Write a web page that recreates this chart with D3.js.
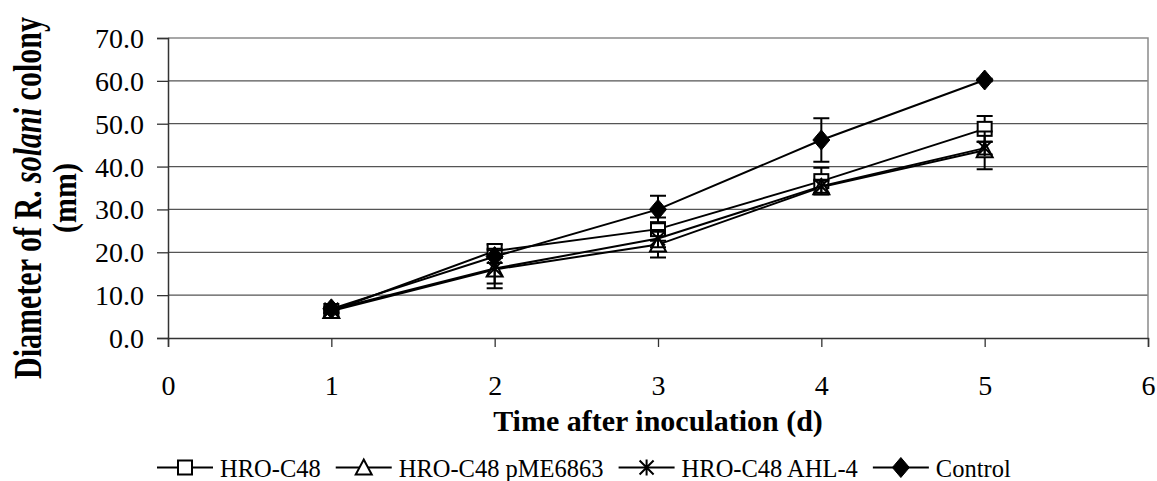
<!DOCTYPE html>
<html>
<head>
<meta charset="utf-8">
<script src="https://cdn.jsdelivr.net/npm/d3@7"></script>
<style>
  html, body { margin: 0; padding: 0; background: #fff; }
  svg { display: block; font-family: "Liberation Serif", "Times New Roman", serif; }
</style>
</head>
<body>
<svg id="chart" width="1157" height="481"></svg>
<script>
// ---- data ----
const days = [1, 2, 3, 4, 5];
const seriesNames = ["HRO-C48", "HRO-C48 pME6863", "HRO-C48 AHL-4", "Control"];
const hroC48 = [6.3, 20.3, 25.4, 36.6, 48.8];
const hroC48Err = [0.5, 1.5, 2.7, 3.1, 3.0];
const pME6863 = [6.3, 16.0, 21.8, 35.2, 43.8];
const pME6863Err = [0.5, 3.3, 3.0, 1.5, 4.4];
const ahl4 = [6.6, 16.2, 23.2, 35.4, 44.3];
const ahl4Err = [0.5, 4.6, 2.0, 1.5, 1.5];
const control = [6.8, 19.0, 30.0, 46.2, 60.2];
const controlErr = [0.3, 1.5, 3.2, 5.1, 0.3];
const markers = ["square", "triangle", "star", "diamond"];
const xTicks = [0, 1, 2, 3, 4, 5, 6];
const yTicks = [0, 10, 20, 30, 40, 50, 60, 70];
const xTitle = "Time after inoculation (d)";

const seriesValues = [hroC48, pME6863, ahl4, control];
const seriesErrs = [hroC48Err, pME6863Err, ahl4Err, controlErr];

// ---- layout ----
const svg = d3.select("#chart");
const L = 168, R = 1148, T = 38, B = 338;
const x = d3.scaleLinear().domain([0, 6]).range([L, R]);
const y = d3.scaleLinear().domain([0, 70]).range([B, T]);

// gridlines
svg.append("g").selectAll("line").data(yTicks.filter(v => v > 0 && v < 70)).join("line")
  .attr("x1", L).attr("x2", R).attr("y1", d => y(d)).attr("y2", d => y(d))
  .attr("stroke", "#555").attr("stroke-width", 1.2);

// plot border (top / right)
svg.append("path").attr("d", `M${L},${T}H${R}V${B}`).attr("fill", "none")
  .attr("stroke", "#8a8a8a").attr("stroke-width", 1.5);

// y axis
const yAxis = svg.append("g").attr("transform", `translate(${L},0)`)
  .call(d3.axisLeft(y).tickValues(yTicks).tickSize(11).tickPadding(13).tickFormat(d3.format(".1f")));
yAxis.select(".domain").attr("stroke", "#333").attr("stroke-width", 1.5);
yAxis.selectAll(".tick line").attr("stroke", "#333").attr("stroke-width", 1.3);
yAxis.selectAll("text").attr("font-size", 28).attr("fill", "#000")
  .attr("font-family", "Liberation Serif").attr("dy", "0.34em");

// x axis
const xAxis = svg.append("g").attr("transform", `translate(0,${B})`)
  .call(d3.axisBottom(x).tickValues(xTicks).tickSize(9).tickPadding(34).tickFormat(d3.format("d")));
xAxis.select(".domain").attr("stroke", "#333").attr("stroke-width", 1.5);
xAxis.selectAll(".tick line").attr("stroke", "#333").attr("stroke-width", 1.3);
xAxis.selectAll("text").attr("font-size", 28).attr("fill", "#000")
  .attr("font-family", "Liberation Serif").attr("dy", "0.5em");

// axis titles
svg.append("text").attr("x", (L + R) / 2).attr("y", 431)
  .attr("text-anchor", "middle").attr("font-weight", "bold").attr("font-size", 30)
  .text(xTitle);

const yt = svg.append("text").attr("transform", "translate(41,198) rotate(-90) scale(1,1.3)")
  .attr("text-anchor", "middle").attr("font-weight", "bold").attr("font-size", 30);
yt.append("tspan").text("Diameter of ");
yt.append("tspan").text("R. ");
yt.append("tspan").attr("font-style", "italic").text("solani");
yt.append("tspan").text(" colony");
svg.append("text").attr("transform", "translate(76,198) rotate(-90) scale(1,1.15)")
  .attr("text-anchor", "middle").attr("font-weight", "bold").attr("font-size", 30)
  .text("(mm)");

// marker drawing
function drawMarker(g, type, cx, cy) {
  if (type === "square") {
    g.append("rect").attr("x", cx - 7).attr("y", cy - 7).attr("width", 14).attr("height", 14)
      .attr("fill", "#fff").attr("stroke", "#000").attr("stroke-width", 2);
  } else if (type === "triangle") {
    g.append("path").attr("d", `M${cx},${cy - 8}L${cx + 8},${cy + 7}L${cx - 8},${cy + 7}Z`)
      .attr("fill", "#fff").attr("stroke", "#000").attr("stroke-width", 2);
  } else if (type === "star") {
    g.append("path").attr("d",
      `M${cx},${cy - 8}V${cy + 8}M${cx - 7},${cy - 7}L${cx + 7},${cy + 7}M${cx + 7},${cy - 7}L${cx - 7},${cy + 7}`)
      .attr("fill", "none").attr("stroke", "#000").attr("stroke-width", 2);
  } else if (type === "diamond") {
    g.append("path").attr("d", `M${cx},${cy - 10}L${cx + 8.5},${cy}L${cx},${cy + 10}L${cx - 8.5},${cy}Z`)
      .attr("fill", "#000").attr("stroke", "#000").attr("stroke-width", 1);
  }
}

// series
const line = d3.line().x(d => x(d[0])).y(d => y(d[1]));
seriesValues.forEach((vals, si) => {
  const g = svg.append("g");
  const pts = days.map((d, i) => [d, vals[i]]);
  days.forEach((d, i) => {
    const e = seriesErrs[si][i];
    const cx = x(d), y1 = y(vals[i] + e), y2 = y(vals[i] - e);
    g.append("path").attr("d",
      `M${cx},${y1}V${y2}M${cx - 8},${y1}H${cx + 8}M${cx - 8},${y2}H${cx + 8}`)
      .attr("stroke", "#000").attr("stroke-width", 2).attr("fill", "none");
  });
  g.append("path").datum(pts).attr("d", line).attr("fill", "none")
    .attr("stroke", "#000").attr("stroke-width", 2);
  pts.forEach(p => drawMarker(g, markers[si], x(p[0]), y(p[1])));
});

// legend
const lg = svg.append("g");
let lx = 157;
const ly = 467.5;
seriesNames.forEach((name, i) => {
  lg.append("line").attr("x1", lx).attr("x2", lx + 56).attr("y1", ly).attr("y2", ly)
    .attr("stroke", "#000").attr("stroke-width", 2);
  drawMarker(lg, markers[i], lx + 28, ly);
  const t = lg.append("text").attr("x", lx + 63).attr("y", ly + 9)
    .attr("font-size", 24.5).text(name);
  lx = lx + 63 + t.node().getComputedTextLength() + 15;
});
</script>
</body>
</html>
